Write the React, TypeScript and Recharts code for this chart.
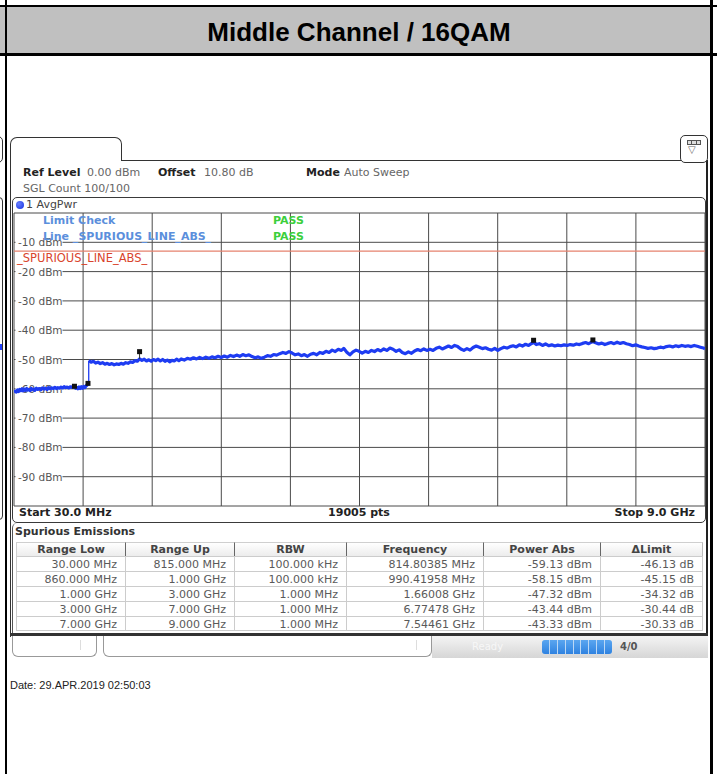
import React from 'react';
import { ComposedChart, Line, XAxis, YAxis, CartesianGrid, ReferenceLine } from 'recharts';

const FONT = '"DejaVu Sans", Verdana, sans-serif';
const ARIAL = '"Liberation Sans", Arial, sans-serif';
const TRACE = '#1e3cf2';

// ---------- data ----------
const gridFreqs = [30, 927, 1824, 2721, 3618, 4515, 5412, 6309, 7206, 8103, 9000];
const levelTicks = [0, -10, -20, -30, -40, -50, -60, -70, -80, -90, -100];
const freqDomain = [30, 9000];
const levelDomain = [-100, 0];
const limitLevel = -13;

// [frequency MHz, level dBm] below 1 GHz (RBW 100 kHz)
const lowBand: [number, number][] = [
  [30, -61.3], [45, -60.8], [60, -61.1], [75, -60.4], [90, -60.9], [105, -60.2], [120, -60.6],
  [135, -60.0], [150, -60.7], [165, -60.1], [180, -60.5], [195, -59.9], [210, -60.4], [225, -60.2],
  [240, -60.6], [255, -59.9], [270, -60.3], [285, -60.1], [300, -60.5], [320, -59.8], [340, -60.2],
  [360, -59.9], [380, -60.3], [400, -59.7], [420, -60.1], [440, -59.8], [460, -60.2], [480, -59.6],
  [500, -60.0], [520, -59.7], [540, -59.9], [560, -59.5], [580, -59.9], [600, -59.6], [620, -59.8],
  [640, -59.4], [660, -59.7], [680, -59.3], [700, -59.6], [720, -59.4], [740, -59.7], [760, -59.3],
  [780, -59.5], [800, -59.2], [815, -59.3], [830, -59.8], [845, -59.5], [860, -60.0], [875, -59.4],
  [890, -59.9], [905, -59.3], [920, -59.8], [935, -59.2], [950, -59.6], [965, -59.0], [980, -58.7],
  [990, -58.3], [1000, -58.5],
];

// [frequency MHz, level dBm] 1 GHz .. 9 GHz (RBW 1 MHz)
const highBand: [number, number][] = [
  [1000, -50.4], [1030, -50.9], [1060, -50.6], [1090, -51.2], [1120, -50.9], [1150, -51.4], [1180, -51.1],
  [1210, -51.6], [1240, -51.3], [1270, -51.7], [1300, -51.4], [1330, -51.8], [1360, -51.5], [1390, -51.7],
  [1420, -51.3], [1450, -51.6], [1480, -51.1], [1510, -51.3], [1540, -50.8], [1570, -51.0], [1600, -50.4],
  [1630, -50.6], [1660, -49.8], [1690, -50.3], [1720, -49.9], [1750, -50.5], [1780, -50.1], [1810, -50.6],
  [1840, -50.0], [1870, -50.4], [1900, -49.9], [1930, -50.5], [1960, -50.0], [1990, -50.6], [2020, -50.2],
  [2050, -50.8], [2080, -50.3], [2110, -50.5], [2140, -49.9], [2170, -50.4], [2200, -49.8], [2240, -50.2],
  [2280, -49.6], [2320, -49.9], [2360, -49.4], [2400, -49.8], [2440, -49.3], [2480, -49.7], [2520, -49.2],
  [2560, -49.6], [2600, -49.1], [2640, -49.4], [2680, -48.9], [2720, -49.3], [2760, -48.8], [2800, -49.2],
  [2840, -48.6], [2880, -49.0], [2920, -48.5], [2960, -48.9], [3000, -48.3], [3040, -48.7], [3080, -48.4],
  [3120, -49.0], [3160, -49.4], [3200, -49.1], [3240, -49.6], [3280, -49.2], [3320, -48.7], [3360, -48.9],
  [3400, -48.3], [3440, -48.5], [3480, -48.0], [3520, -47.6], [3560, -47.9], [3600, -47.3], [3640, -47.8],
  [3680, -48.4], [3720, -48.1], [3760, -48.7], [3800, -48.3], [3840, -48.9], [3880, -48.2], [3920, -47.9],
  [3960, -48.4], [4000, -47.6], [4040, -47.9], [4080, -47.2], [4120, -47.6], [4160, -46.8], [4200, -47.3],
  [4240, -46.5], [4280, -46.9], [4310, -46.2], [4350, -47.5], [4390, -48.4], [4430, -47.4], [4470, -46.8],
  [4510, -47.2], [4550, -47.8], [4590, -47.2], [4630, -47.6], [4670, -46.9], [4710, -47.3], [4750, -46.6],
  [4790, -47.1], [4830, -46.4], [4870, -46.9], [4910, -46.1], [4950, -46.5], [4990, -47.2], [5030, -46.7],
  [5070, -47.6], [5110, -48.0], [5150, -47.4], [5190, -47.9], [5230, -47.1], [5270, -46.6], [5310, -47.0],
  [5350, -46.4], [5390, -46.9], [5430, -46.5], [5470, -46.9], [5510, -46.2], [5550, -45.8], [5590, -46.4],
  [5630, -45.9], [5670, -45.4], [5710, -45.9], [5750, -45.2], [5790, -45.6], [5830, -46.4], [5870, -46.9],
  [5910, -46.3], [5950, -46.8], [5990, -45.9], [6030, -45.4], [6070, -45.8], [6110, -46.3], [6150, -46.0],
  [6190, -46.5], [6230, -46.8], [6270, -46.2], [6310, -46.9], [6350, -46.3], [6390, -45.8], [6430, -46.1],
  [6470, -45.6], [6510, -45.3], [6550, -45.7], [6590, -45.0], [6630, -45.4], [6670, -44.8], [6710, -45.2],
  [6750, -44.5], [6780, -44.2], [6810, -44.9], [6850, -44.6], [6890, -45.2], [6930, -44.7], [6970, -45.3],
  [7010, -45.0], [7050, -45.4], [7090, -45.1], [7130, -45.3], [7170, -45.0], [7210, -45.2], [7250, -44.9],
  [7290, -45.1], [7330, -44.7], [7370, -44.9], [7410, -44.5], [7450, -44.2], [7490, -44.6], [7540, -43.9],
  [7580, -44.3], [7620, -44.7], [7660, -44.4], [7700, -44.9], [7740, -44.5], [7780, -44.2], [7820, -44.6],
  [7860, -44.1], [7900, -44.5], [7940, -44.2], [7980, -44.6], [8020, -44.9], [8060, -45.3], [8100, -45.0],
  [8140, -45.4], [8180, -45.7], [8220, -45.9], [8260, -46.2], [8300, -46.0], [8340, -46.3], [8380, -46.1],
  [8420, -45.8], [8460, -46.0], [8500, -45.6], [8540, -45.4], [8580, -45.7], [8620, -45.3], [8660, -45.6],
  [8700, -45.2], [8740, -45.5], [8780, -45.3], [8820, -45.6], [8860, -45.2], [8900, -45.5], [8940, -45.8],
  [8980, -46.1], [9000, -46.3],
];

// peak markers (from the Spurious Emissions table)
const markerFreq = [814.80385, 990.41958, 1660.08, 6774.78, 7544.61];
const markerLevel = [-59.13, -58.15, -47.32, -43.44, -43.33];

// table text
const rangeLow = ['30.000 MHz', '860.000 MHz', '1.000 GHz', '3.000 GHz', '7.000 GHz'];
const rangeUp = ['815.000 MHz', '1.000 GHz', '3.000 GHz', '7.000 GHz', '9.000 GHz'];
const rbwList = ['100.000 kHz', '100.000 kHz', '1.000 MHz', '1.000 MHz', '1.000 MHz'];
const peakFreqText = ['814.80385 MHz', '990.41958 MHz', '1.66008 GHz', '6.77478 GHz', '7.54461 GHz'];
const tableHeaders = ['Range Low', 'Range Up', 'RBW', 'Frequency', 'Power Abs', '\u0394Limit'];

// ---------- derived ----------
const lowData = lowBand.map(([f, p]) => ({ f, p }));
const highData = highBand.map(([f, p]) => ({ f, p }));
const markerData = markerFreq.map((f, i) => ({ f, p: markerLevel[i] }));
const powerAbsText = markerLevel.map((v) => `${v.toFixed(2)} dBm`);
const deltaLimitText = markerLevel.map((v) => `${(v - limitLevel).toFixed(2)} dB`);
const tableRows = rangeLow.map((_, i) => [rangeLow[i], rangeUp[i], rbwList[i], peakFreqText[i], powerAbsText[i], deltaLimitText[i]]);
const jumpFrom = lowBand[lowBand.length - 1];
const jumpTo = highBand[0];
const stemBase = highBand.find(([f]) => f === 1660) as [number, number];

// ---------- helpers ----------
const Abs = ({ left, top, width, height, style, children }: any) => (
  <div style={{ position: 'absolute', left, top, width, height, boxSizing: 'border-box', ...style }}>{children}</div>
);

const Txt = ({ x, cy, size = 11, color = '#333', weight = 'normal', children, align = 'left', w = 300, family = FONT }: any) => {
  let left = x;
  if (align === 'right') left = x - w;
  if (align === 'center') left = x - w / 2;
  return (
    <div
      style={{
        position: 'absolute', left, top: cy - size * 0.76, width: w, height: size * 1.5,
        lineHeight: `${size * 1.5}px`, fontSize: size, color, fontWeight: weight as any,
        fontFamily: family, textAlign: align as any, whiteSpace: 'nowrap',
      }}
    >
      {children}
    </div>
  );
};

const LevelTick = (props: any) => {
  const { y, payload } = props;
  const v = payload?.value;
  if (v === 0 || v === -100) return <g />;
  return (
    <g>
      <rect x={5.5} y={y - 6} width={47} height={12} fill="#ffffff" />
      <text x={8} y={y + 4} fontSize={10.5} fontFamily={FONT} fill="#555555">{`${v} dBm`}</text>
    </g>
  );
};

const SquareDot = (p: any) => {
  if (p.cx == null || p.cy == null) return <g key={p.index} />;
  return <rect key={p.index} x={p.cx - 2.5} y={p.cy - 2.5} width={5} height={5} fill="#111111" />;
};

const colEdges = [16, 126, 235, 347, 484, 601, 703];
const rowTops = [556, 571, 586, 601, 616];
const CHART_W = 699;
const CHART_H = 301;
const CHART_M = { top: 4, right: 4, bottom: 4, left: 4 };

export default function App() {
  return (
    <div style={{ position: 'absolute', left: 0, top: 0, width: 717, height: 774, background: '#ffffff', overflow: 'hidden' }}>
      {/* outer frame and title band */}
      <Abs left={0} top={5} width={717} height={2} style={{ background: '#000' }} />
      <Abs left={0} top={7} width={711} height={47} style={{ background: '#c0c0c0' }} />
      <Abs left={0} top={53} width={717} height={2.5} style={{ background: '#000' }} />
      <Abs left={5} top={0} width={2} height={774} style={{ background: '#000' }} />
      <Abs left={710} top={0} width={3} height={774} style={{ background: '#000' }} />
      <Txt x={359} cy={32.5} size={26} weight="bold" align="center" w={700} family={ARIAL} color="#000">Middle Channel / 16QAM</Txt>

      {/* left remnants */}
      <Abs left={-8} top={136} width={11} height={27} style={{ border: '1.5px solid #333', borderRadius: 5 }} />
      <Abs left={-8} top={197} width={11} height={323} style={{ border: '1.5px solid #333', borderRadius: 4 }} />
      <Abs left={0} top={344} width={2} height={6} style={{ background: '#2040ff' }} />

      {/* instrument panel */}
      <Abs left={10} top={159.5} width={698} height={477} style={{ borderLeft: '1.5px solid #333', borderTop: '1.5px solid #333', borderRight: '2px solid #222' }} />
      <Abs left={10} top={137} width={112} height={24} style={{ background: '#fff', borderTop: '1.5px solid #333', borderLeft: '1.5px solid #333', borderRight: '1.5px solid #333', borderRadius: '7px 7px 0 0', zIndex: 1 }} />
      <Txt x={20} cy={150} size={12} color="#9a9a9a">Spectrum</Txt>
      <Abs left={680} top={135} width={28} height={28} style={{ background: '#fff', border: '1.5px solid #333', borderRadius: 5, zIndex: 2 }}>
        <div style={{ position: 'absolute', left: 6, top: 4, width: 14, height: 5, background: '#555', display: 'flex', gap: 1, padding: 1, boxSizing: 'border-box' }}>
          <div style={{ flex: 1, background: '#ddd' }} />
          <div style={{ flex: 1, background: '#ddd' }} />
          <div style={{ flex: 1, background: '#ddd' }} />
        </div>
        <div style={{ position: 'absolute', left: 7, top: 8, fontSize: 10, lineHeight: '12px', color: '#666', fontFamily: FONT }}>{'\u25BD'}</div>
      </Abs>

      <Txt x={23} cy={173} weight="bold" color="#222">Ref Level</Txt>
      <Txt x={87} cy={173} color="#666">0.00 dBm</Txt>
      <Txt x={158} cy={173} weight="bold" color="#222">Offset</Txt>
      <Txt x={204} cy={173} color="#666">10.80 dB</Txt>
      <Txt x={306} cy={173} weight="bold" color="#222">Mode</Txt>
      <Txt x={344} cy={173} color="#666">Auto Sweep</Txt>
      <Txt x={23} cy={189.5} color="#666">SGL Count 100/100</Txt>

      {/* plot frame */}
      <Abs left={12} top={197} width={694} height={326} style={{ border: '1.5px solid #3a3a3a', borderRadius: 5 }} />
      <Abs left={16} top={201} width={8} height={8} style={{ borderRadius: '50%', background: 'radial-gradient(circle at 35% 35%, #6a80ff, #1530e0)' }} />
      <Txt x={26} cy={205} color="#444">1 AvgPwr</Txt>

      {/* chart background layer: grid, level labels, limit line */}
      <div style={{ position: 'absolute', left: 10, top: 209 }}>
        <ComposedChart width={CHART_W} height={CHART_H} margin={CHART_M}>
          <CartesianGrid stroke="#4a4a4a" strokeWidth={1} fill="none" />
          <XAxis type="number" dataKey="f" domain={freqDomain} ticks={gridFreqs} hide allowDataOverflow />
          <YAxis
            type="number"
            domain={levelDomain}
            ticks={levelTicks}
            interval={0}
            mirror
            axisLine={false}
            tickLine={false}
            tick={LevelTick}
            allowDataOverflow
          />
          <ReferenceLine
            y={limitLevel}
            stroke="#e6826e"
            strokeWidth={1.3}
            label={{ value: '_SPURIOUS_LINE_ABS_', position: 'insideTopLeft', offset: 3, fill: '#d9442c', fontSize: 11.5, fontFamily: FONT }}
          />
        </ComposedChart>
      </div>

      {/* chart trace layer */}
      <div style={{ position: 'absolute', left: 10, top: 209 }}>
        <ComposedChart width={CHART_W} height={CHART_H} margin={CHART_M}>
          <XAxis type="number" dataKey="f" domain={freqDomain} hide allowDataOverflow />
          <YAxis type="number" domain={levelDomain} hide allowDataOverflow />
          <Line data={lowData} dataKey="p" stroke={TRACE} strokeWidth={3.2} strokeLinejoin="round" dot={false} activeDot={false} isAnimationActive={false} />
          <Line data={highData} dataKey="p" stroke={TRACE} strokeWidth={3.2} strokeLinejoin="round" dot={false} activeDot={false} isAnimationActive={false} />
          <ReferenceLine segment={[{ x: jumpFrom[0], y: jumpFrom[1] }, { x: jumpTo[0], y: jumpTo[1] }]} stroke={TRACE} strokeWidth={1.3} ifOverflow="visible" />
          <ReferenceLine segment={[{ x: markerFreq[2], y: markerLevel[2] }, { x: markerFreq[2], y: stemBase[1] }]} stroke="#333" strokeWidth={1} ifOverflow="visible" />
          <Line data={markerData} dataKey="p" stroke="none" strokeWidth={0} dot={SquareDot} activeDot={false} isAnimationActive={false} />
        </ComposedChart>
      </div>

      {/* limit check overlay */}
      <Txt x={43} cy={221} weight="bold" color="#5b8fdc">Limit Check</Txt>
      <Txt x={43} cy={237} weight="bold" color="#5b8fdc">Line _SPURIOUS_LINE_ABS_</Txt>
      <Txt x={273} cy={221} weight="bold" color="#3ccf3c">PASS</Txt>
      <Txt x={273} cy={237} weight="bold" color="#3ccf3c">PASS</Txt>

      {/* bottom axis info */}
      <Txt x={19} cy={513.5} weight="bold" color="#222">Start 30.0 MHz</Txt>
      <Txt x={359} cy={513.5} weight="bold" color="#222" align="center">19005 pts</Txt>
      <Txt x={695} cy={513.5} weight="bold" color="#222" align="right">Stop 9.0 GHz</Txt>

      {/* spurious emissions section */}
      <Abs left={12} top={523} width={694} height={112} style={{ borderLeft: '1.5px solid #555', borderRadius: '5px 0 0 0' }} />
      <Txt x={15} cy={532} weight="bold" color="#333">Spurious Emissions</Txt>
      {tableHeaders.map((h, c) => (
        <Abs
          key={h}
          left={colEdges[c]}
          top={542}
          width={colEdges[c + 1] - colEdges[c]}
          height={14}
          style={{
            background: 'linear-gradient(#ffffff, #ececec)',
            borderTop: '1px solid #cfcfcf',
            borderRight: c < 5 ? '1.5px solid #666' : '1px solid #bbb',
            borderLeft: c === 0 ? '1px solid #cfcfcf' : 'none',
            fontFamily: FONT, fontSize: 11, fontWeight: 'bold', color: '#444',
            textAlign: 'center', lineHeight: '14px', whiteSpace: 'nowrap',
          }}
        >
          {h}
        </Abs>
      ))}
      {tableRows.map((row, r) =>
        row.map((cell, c) => (
          <Abs
            key={`${r}-${c}`}
            left={colEdges[c]}
            top={rowTops[r]}
            width={colEdges[c + 1] - colEdges[c]}
            height={15}
            style={{
              borderTop: '1px solid #cccccc',
              borderBottom: r === 4 ? '1px solid #cccccc' : 'none',
              borderRight: '1px solid #cccccc',
              borderLeft: c === 0 ? '1px solid #cccccc' : 'none',
              fontFamily: FONT, fontSize: 11, color: '#5a5a5a',
              textAlign: 'right', paddingRight: 8, lineHeight: '15px', whiteSpace: 'nowrap',
            }}
          >
            {cell}
          </Abs>
        ))
      )}

      {/* toolbar */}
      <Abs left={10} top={633} width={698} height={3} style={{ background: '#333' }} />
      <Abs left={432} top={636} width={276} height={22} style={{ background: 'linear-gradient(#f4f4f4, #d6d6d6)' }} />
      <Abs left={12} top={636} width={85} height={21} style={{ border: '1px solid #999', borderTop: 'none', borderRadius: '0 0 6px 6px', background: '#fff' }}>
        <div style={{ position: 'absolute', left: 67, top: 4, width: 1, height: 10, background: '#ddd' }} />
      </Abs>
      <Abs left={103} top={636} width={329} height={21} style={{ border: '1px solid #999', borderTop: 'none', borderRadius: '0 0 6px 6px', background: '#fff' }}>
        <div style={{ position: 'absolute', left: 312, top: 4, width: 1, height: 10, background: '#ddd' }} />
      </Abs>
      <Txt x={472} cy={647} size={10} color="#f7f7f7">Ready</Txt>
      <Abs left={542} top={640} width={70} height={14} style={{ display: 'flex', gap: 1, background: '#bcd8f5', borderRadius: 3, overflow: 'hidden' }}>
        {[0, 1, 2, 3, 4, 5, 6, 7, 8].map((i) => (
          <div key={i} style={{ flex: 1, background: 'linear-gradient(#5aa6f0, #2f82e0)' }} />
        ))}
      </Abs>
      <Txt x={620} cy={647} size={10} weight="bold" color="#555">4/0</Txt>

      {/* date */}
      <Txt x={10} cy={685} size={11} family={ARIAL} color="#222">Date: 29.APR.2019  02:50:03</Txt>
    </div>
  );
}
